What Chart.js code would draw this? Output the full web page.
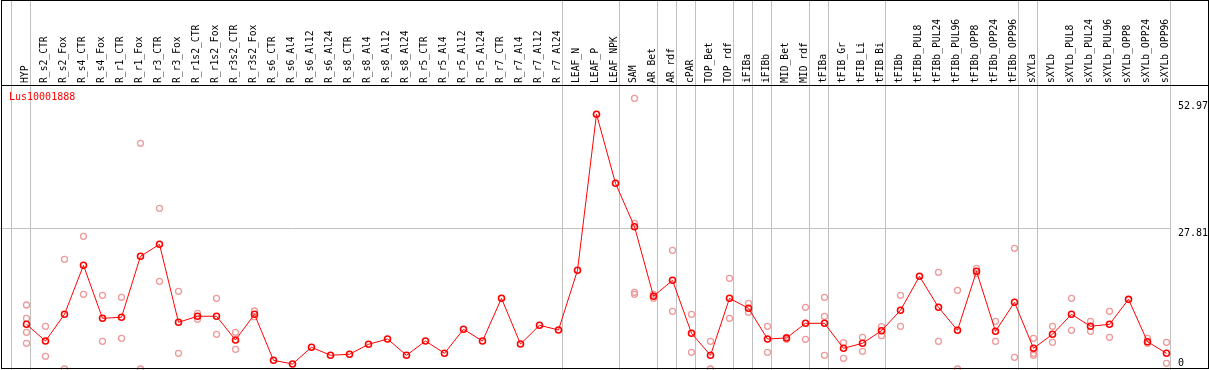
<!DOCTYPE html>
<html>
<head>
<meta charset="utf-8">
<script src="https://cdn.jsdelivr.net/npm/chart.js@4.4.0/dist/chart.umd.min.js"></script>
<style>
html,body{margin:0;padding:0;background:#fff;}
canvas{display:block;}
</style>
</head>
<body>
<canvas id="grafico" width="1209" height="370"></canvas>
<script>
const titulo = "Lus10001888";

const muestras = ['HYP','R_s2_CTR','R_s2_Fox','R_s4_CTR','R_s4_Fox','R_r1_CTR','R_r1_Fox','R_r3_CTR','R_r3_Fox',
'R_r1s2_CTR','R_r1s2_Fox','R_r3s2_CTR','R_r3s2_Fox','R_s6_CTR','R_s6_Al4','R_s6_Al12','R_s6_Al24',
'R_s8_CTR','R_s8_Al4','R_s8_Al12','R_s8_Al24','R_r5_CTR','R_r5_Al4','R_r5_Al12','R_r5_Al24',
'R_r7_CTR','R_r7_Al4','R_r7_Al12','R_r7_Al24','LEAF_N','LEAF_P','LEAF_NPK','SAM','AR_Bet','AR_rdf',
'cPAR','TOP_Bet','TOP_rdf','iFIBa','iFIBb','MID_Bet','MID_rdf','tFIBa','tFIB_Gr','tFIB_Li','tFIB_Bi',
'tFIBb','tFIBb_PUL8','tFIBb_PUL24','tFIBb_PUL96','tFIBb_OPP8','tFIBb_OPP24','tFIBb_OPP96',
'sXYLa','sXYLb','sXYLb_PUL8','sXYLb_PUL24','sXYLb_PUL96','sXYLb_OPP8','sXYLb_OPP24','sXYLb_OPP96'];

const medias = [8.83,5.53,10.81,20.49,10.02,10.22,22.27,24.64,9.23,10.42,
10.42,5.73,10.81,1.72,0.99,4.29,2.71,2.91,4.88,5.93,
2.71,5.53,3.10,7.85,5.53,13.97,4.94,8.64,7.71,19.51,
50.34,36.70,28.12,14.37,17.53,7.06,2.71,13.97,12.00,5.93,
6.13,9.03,9.03,4.09,5.08,7.57,11.60,18.32,12.19,7.65,
19.31,7.45,13.18,4.09,6.86,10.81,8.44,8.83,13.77,5.40,
3.10];

const replicas = [
[12.65,10.02,7.25,5.08],[8.44,2.51],[21.68,0],[26.23,14.76],[14.57,5.47],
[14.17,6.07],[44.61,0],[31.76,17.33],[15.36,3.10],[11.01,9.82],
[13.97,6.86],[7.25,3.89],[11.46,10.34],[],[],
[],[],[],[],[],
[],[],[],[],[],
[],[],[],[],[],
[],[],[53.50,28.79,15.16,14.76],[14.76,13.97],[23.46,11.40],
[10.81,3.30],[5.47,0],[17.92,10.02],[12.98,11.21],[8.44,3.30],
[6.26,5.87],[12.19,5.87],[14.17,10.42,2.71],[5.20,2.11],[6.26,3.50],
[8.36,6.58],[14.57,8.44],[],[19.11,5.47],[15.55,0],
[19.90,18.91],[9.43,5.47],[23.85,2.31],[6.07,3.10,2.71],[8.44,5.28],
[13.97,7.65],[9.43,7.45],[11.40,6.26],[],[6.07,5.08],
[5.28,1.13]];

const yTicks = [0, 27.81, 52.97];

// separadores de grupos (entre muestras)
const limites = [-0.8,0.2,28.2,31.2,33.2,34.2,35.2,37.2,38.2,39.2,41.2,42.2,45.2,52.2,53.2,60.2];

const familia = '"DejaVu Sans Mono", monospace';

let puntosMedia = medias.map((v,i)=>({x:i,y:v}));
let puntosRep = [];
replicas.forEach((lista,i)=>{
  lista.forEach(v=>puntosRep.push({x:i,y:v}));
});

const marco = {
  id:'marco',
  beforeDatasetsDraw(chart){
    const ctx = chart.ctx;
    const x = chart.scales.x;
    ctx.save();
    ctx.strokeStyle = '#c0c0c0';
    ctx.lineWidth = 1;
    limites.forEach(b=>{
      let px = Math.round(x.getPixelForValue(b)) + 0.5;
      ctx.beginPath();
      ctx.moveTo(px,0);
      ctx.lineTo(px,chart.height);
      ctx.stroke();
    });
    ctx.restore();
  },
  afterDraw(chart){
    const ctx = chart.ctx;
    ctx.save();
    ctx.strokeStyle = '#000';
    ctx.lineWidth = 1;
    ctx.strokeRect(1.5,0.5,1207,368);
    ctx.beginPath();
    ctx.moveTo(1,85.5);
    ctx.lineTo(chart.width,85.5);
    ctx.stroke();
    ctx.fillStyle = '#ff0000';
    ctx.font = '10px ' + familia;
    ctx.textBaseline = 'middle';
    ctx.fillText(titulo, 9, 97.5);
    ctx.restore();
  }
};

const ctx = document.getElementById("grafico");

new Chart(ctx,{
  type:'scatter',
  data:{
    datasets:[{
      label:'media',
      data:puntosMedia,
      showLine:true,
      borderColor:'#ff0000',
      borderWidth:1,
      pointRadius:3,
      pointBorderWidth:1.6,
      pointBorderColor:'#ff0000',
      pointBackgroundColor:'rgba(0,0,0,0)',
      clip:false,
      order:0
    },{
      label:'replicas',
      data:puntosRep,
      showLine:false,
      pointRadius:3,
      pointBorderWidth:1.3,
      pointBorderColor:'#ee9999',
      pointBackgroundColor:'rgba(0,0,0,0)',
      clip:false,
      order:1
    }]
  },
  options:{
    responsive:false,
    animation:false,
    devicePixelRatio:1,
    layout:{autoPadding:false, padding:{top:0,left:0,right:0,bottom:1}},
    plugins:{legend:{display:false},tooltip:{enabled:false}},
    scales:{
      x:{
        type:'linear',
        position:'top',
        min:-1.3947,
        max:60.184,
        afterBuildTicks:s=>{ s.ticks = muestras.map((m,i)=>({value:i})); },
        afterFit:s=>{ s.height = 86; s.paddingLeft = 0; s.paddingRight = 0; },
        ticks:{
          autoSkip:false,
          minRotation:90,
          maxRotation:90,
          padding:3,
          labelOffset:11,
          color:'#000',
          font:{family:familia, size:9.7},
          callback:v=>muestras[v]
        },
        grid:{display:false, drawTicks:false, tickLength:0},
        border:{display:false}
      },
      y:{
        position:'right',
        min:0,
        max:55.93,
        afterBuildTicks:s=>{ s.ticks = yTicks.map(v=>({value:v})); },
        afterFit:s=>{ s.width = 39; s.paddingTop = 0; s.paddingBottom = 0; },
        ticks:{
          align:'start',
          padding:8,
          color:'#000',
          font:c=>({family:familia, size:10, lineHeight: c.tick && c.tick.value===0 ? '21px' : 1.2}),
          callback:v=> v===0 ? ['0',''] : String(v)
        },
        grid:{
          drawTicks:false,
          color:c=> c.tick && c.tick.value===27.81 ? '#c0c0c0' : 'rgba(0,0,0,0)'
        },
        border:{display:false}
      }
    }
  },
  plugins:[marco]
});
</script>
</body>
</html>
